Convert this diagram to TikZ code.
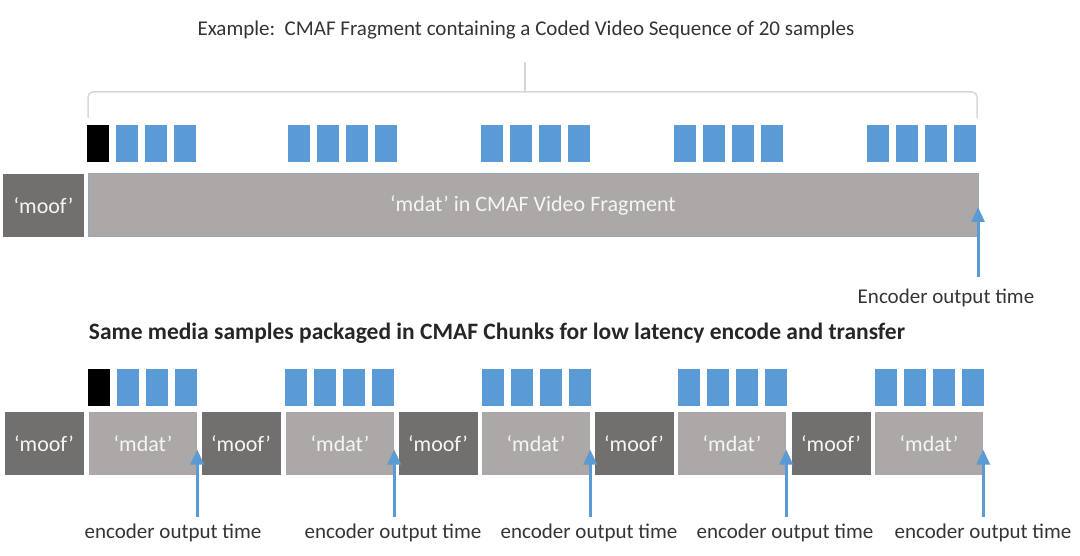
\documentclass[tikz,border=0pt]{standalone}
\usepackage{fontspec}
\setmainfont{Carlito}
\usepackage{xcolor}
\usepackage{tikz}
\usetikzlibrary{arrows.meta, calc}

\definecolor{moofgray}{RGB}{114,112,111}
\definecolor{mdatgray}{RGB}{172,168,167}
\definecolor{sampleblue}{RGB}{91,155,213}
\definecolor{bracegray}{RGB}{212,216,222}
\definecolor{textgray}{RGB}{52,52,52}

\begin{document}
\begin{tikzpicture}[
  x=1pt, y=-1pt,
  big/.style={font=\fontsize{21}{25}\selectfont},
  box/.style={font=\fontsize{22}{26}\selectfont, inner sep=0pt, minimum height=63pt, text=white!92!gray},
  moofbox/.style={box, fill=moofgray, minimum width=79pt},
  mdatbox/.style={box, fill=mdatgray, minimum width=108pt},
  sample/.style={fill=sampleblue, inner sep=0pt, minimum width=22pt, minimum height=37pt},
  idr/.style={sample, fill=black},
  enc/.style={draw=sampleblue, line width=3pt, -{Triangle[length=15pt, width=13pt]}},
  tag/.style={big, text=textgray}
]
  \useasboundingbox (0,0) rectangle (1080,556);

  %--- Top: one CMAF fragment ---
  \node[tag] (title) at (526,30) {Example:~~CMAF Fragment containing a Coded Video Sequence of 20 samples};

  \draw[bracegray, line width=1.5pt, rounded corners=5pt] (88,118) -- (88,92) -- (977,92) -- (977,118);
  \draw[bracegray, line width=1.5pt] (525,92) -- (525,62);

  \node[idr] (t0) at (98,143.5) {};
  \foreach \k in {1,2,3}
    \node[sample] (t0-\k) at (98+29*\k,143.5) {};
  \foreach \g in {288,481,674,867}
    \foreach \k in {0,...,3}
      \node[sample] (t\g-\k) at (\g+11+29*\k,143.5) {};

  \node[moofbox, minimum width=81pt] (moof) at (43.5,205.5) {‘moof’};
  \node[mdatbox, minimum width=890pt, draw={rgb,255:red,150;green,168;blue,190}, line width=1pt]
    (mdat) at (533,205.5) {‘mdat’ in CMAF Video Fragment};

  \coordinate (out) at (978,207);
  \coordinate (base) at (978,277);
  \draw[enc] (base) -- (out);
  \node[tag] (outlab) at (946,298) {Encoder output time};

  %--- Bottom: the same samples in CMAF chunks ---
  \node[tag, font=\fontsize{23.5}{28}\selectfont\bfseries, text=black!85] (sub) at (497,333)
    {Same media samples packaged in CMAF Chunks for low latency encode and transfer};

  \node[idr] (b0) at (99,387) {};
  \foreach \k in {1,2,3}
    \node[sample] (b0-\k) at (99+29*\k,387) {};
  \foreach \g in {285,482,678,875}
    \foreach \k in {0,...,3}
      \node[sample] (b\g-\k) at (\g+11+29*\k,387) {};

  \node[moofbox] (moof1) at (44,443.5) {‘moof’};
  \node[mdatbox] (mdat1) at (143,443.5) {‘mdat’};
  \node[moofbox] (moof2) at (241,443.5) {‘moof’};
  \node[mdatbox] (mdat2) at (340,443.5) {‘mdat’};
  \node[moofbox] (moof3) at (438,443.5) {‘moof’};
  \node[mdatbox] (mdat3) at (536,443.5) {‘mdat’};
  \node[moofbox] (moof4) at (634,443.5) {‘moof’};
  \node[mdatbox] (mdat4) at (732,443.5) {‘mdat’};
  \node[moofbox] (moof5) at (831,443.5) {‘moof’};
  \node[mdatbox] (mdat5) at (929,443.5) {‘mdat’};

  \node[tag] (lab1) at (173,533) {encoder output time};
  \node[tag] (lab2) at (393,533) {encoder output time};
  \node[tag] (lab3) at (589,533) {encoder output time};
  \node[tag] (lab4) at (785,533) {encoder output time};
  \node[tag] (lab5) at (983,533) {encoder output time};

  \foreach \n in {1,...,5} {
    \coordinate (tip\n) at ($(mdat\n.east)+(0,6)$);
    \draw[enc] ($(mdat\n.east)+(0,73)$) -- (tip\n);
  }

\end{tikzpicture}
\end{document}
